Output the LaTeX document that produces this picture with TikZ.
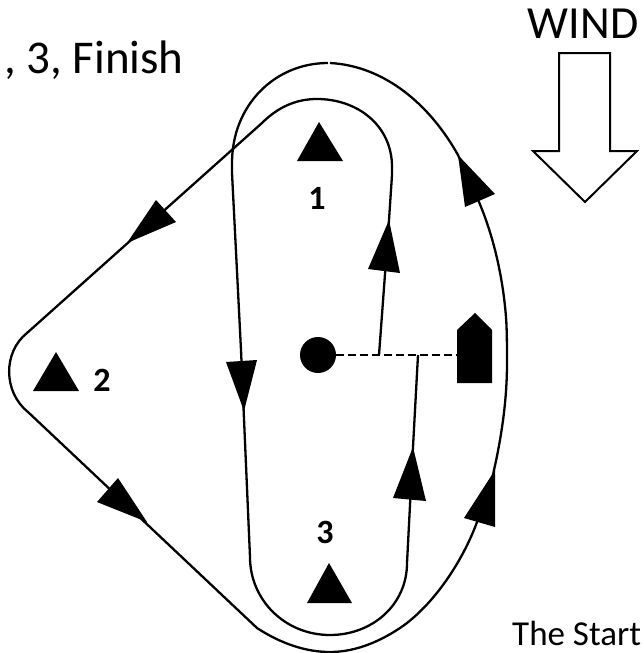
\documentclass[tikz,border=0pt]{standalone}
\usepackage{fontspec}
\setmainfont{Carlito}
\tikzset{
  course/.style={line width=2.3pt,black,line join=round},
  headfill/.style={fill=black,draw=none},
  big/.style={font=\fontsize{46}{50}\selectfont,inner sep=0pt},
  numlabel/.style={font=\bfseries\fontsize{34}{38}\selectfont,inner sep=0pt},
}
\begin{document}
\begin{tikzpicture}[x=1pt,y=-1pt]
\useasboundingbox (0,0) rectangle (643,653);
\clip (0,0) rectangle (643,653);
% course: start to mark 1, mark 2, outer run
\coordinate (s1) at (379,355);
\coordinate (s2) at (418,355);
\draw[course] (s1) -- (389,220) -- (392,175) -- (392,167)
  .. controls (392,125) and (357,99) .. (317,99)
  .. controls (295,99) and (277,108) .. (262,123)
  -- (27,333)
  .. controls (3,352) and (3,392) .. (28,412)
  -- (257,628)
  .. controls (280,643) and (305,652) .. (330,652)
  .. controls (365,652) and (395,632) .. (407,623)
  .. controls (440,597) and (465,555) .. (477,522)
  .. controls (485,505) and (490,490) .. (494,470)
  .. controls (503,430) and (507,395) .. (507,363)
  .. controls (507,350) and (507,330) .. (506,317)
  .. controls (503,280) and (495,240) .. (479,202)
  -- (458,155)
  .. controls (430,105) and (385,66) .. (330,63);
\draw[course] (328,63)
  .. controls (275,63) and (232,105) .. (232,163)
  -- (232,173) -- (241,350) -- (250,557)
  .. controls (250,600) and (285,635) .. (330,635)
  .. controls (372,635) and (407,605) .. (407,563)
  -- (413,447) -- (s2);
% start line
\node[circle,fill=black,minimum size=36pt,inner sep=0pt] (pin) at (318,355) {};
\fill (457,383) -- (457,330) -- (475,313) -- (492,330) -- (492,383) -- cycle;
\coordinate (boat) at (457,355);
\draw[line width=2.3pt,dash pattern=on 7.5pt off 4.5pt] (pin.east) -- (boat);
% arrowheads
\fill[headfill] (389,220) -- (368,269) -- (400,273) -- cycle;
\fill[headfill] (458,155) -- (465,207) -- (495,194) -- cycle;
\fill[headfill] (495,470) -- (464,518) -- (495,527) -- cycle;
\fill[headfill] (413,447) -- (393,498) -- (426,501) -- cycle;
\fill[headfill] (244,411) -- (226,362) -- (257,360) -- cycle;
\fill[headfill] (147,522) -- (118,478) -- (97,502) -- cycle;
\fill[headfill] (127,243) -- (156,200) -- (176,222) -- cycle;
% marks
\fill (319,122) -- (297,161) -- (343,161) -- cycle;
\fill (56,352) -- (33,391) -- (79,391) -- cycle;
\fill (329,563) -- (307,603) -- (352,603) -- cycle;
\node[numlabel] (n1) at (317,198) {1};
\node[numlabel] (n2) at (102,380) {2};
\node[numlabel] (n3) at (325,532) {3};
% wind
\draw[line width=2pt,fill=white,line join=miter] (559,53) -- (610,53) -- (610,151) -- (637,151) -- (585,202) -- (533,151) -- (559,151) -- cycle;
\node[big,anchor=base] (wind) at (583,38) {WIND};
\node[font=\fontsize{47}{50}\selectfont,inner sep=0pt,anchor=base west] (course) at (4,73) {, 3, Finish};
\node[font=\fontsize{35}{40}\selectfont,inner sep=0pt,anchor=base west] (startnote) at (512,645) {The Start};
\end{tikzpicture}
\end{document}
